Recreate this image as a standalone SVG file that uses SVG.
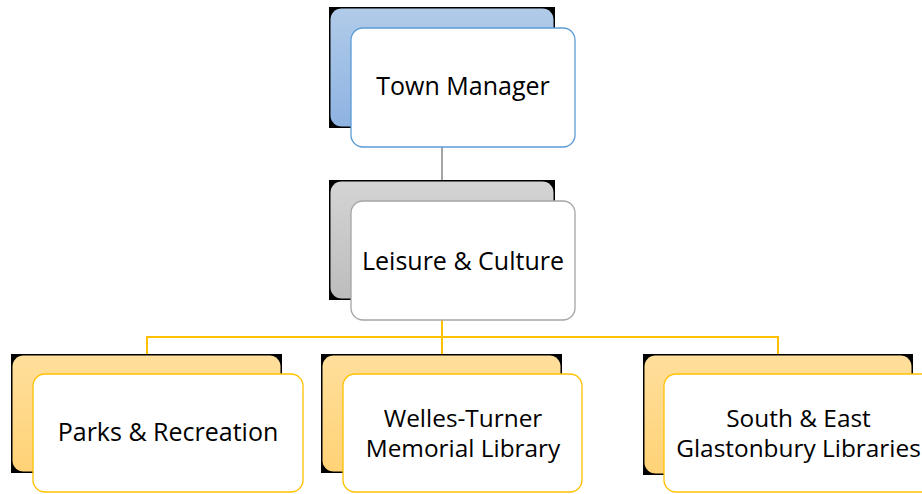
<svg xmlns="http://www.w3.org/2000/svg" width="922" height="494" viewBox="0 0 922 494">
  <style>
    .backing { fill: #000; }
    .card { fill: #fff; stroke-width: 1.3; }
    .blue .card { stroke: #5b9bd5; }
    .gray .card { stroke: #a5a5a5; }
    .gold .card { stroke: #ffc000; }
    .blue .plate { fill: url(#gBlue); }
    .gray .plate { fill: url(#gGray); }
    .gold .plate { fill: url(#gGold); }
    text { font-family: "Open Sans", Lato, "Liberation Sans", sans-serif; font-size: 25px; fill: #000; text-anchor: middle; }
    text.two { font-size: 24.4px; }
    .link-gray { stroke: #a5a5a5; stroke-width: 2; fill: none; }
    .link-gold { stroke: #ffc000; stroke-width: 2; fill: none; }
  </style>
  <defs>
    <linearGradient id="gBlue" x1="0" y1="0" x2="0" y2="1">
      <stop offset="0" stop-color="#b1cbe9"/>
      <stop offset="1" stop-color="#8eb3e2"/>
    </linearGradient>
    <linearGradient id="gGray" x1="0" y1="0" x2="0" y2="1">
      <stop offset="0" stop-color="#d4d4d4"/>
      <stop offset="1" stop-color="#bdbdbd"/>
    </linearGradient>
    <linearGradient id="gGold" x1="0" y1="0" x2="0" y2="1">
      <stop offset="0" stop-color="#ffdf9c"/>
      <stop offset="1" stop-color="#ffd276"/>
    </linearGradient>
  </defs>

  <!-- connectors -->
  <g id="connectors">
    <line class="link-gray" x1="442" y1="147" x2="442" y2="201"/>
    <path class="link-gold" d="M442 320 V337 M147 355 V337 H778 V355 M442 337 V355"/>
  </g>

  <!-- Town Manager -->
  <g id="town-manager" class="blue">
    <rect class="backing" x="329" y="7" width="226" height="121"/>
    <rect class="plate" x="330.5" y="8.5" width="223" height="118" rx="11"/>
    <rect class="card" x="351" y="28" width="224" height="119" rx="12"/>
    <text x="463" y="95">Town Manager</text>
  </g>

  <!-- Leisure & Culture -->
  <g id="leisure-culture" class="gray">
    <rect class="backing" x="329" y="180" width="226" height="120"/>
    <rect class="plate" x="330.5" y="181.5" width="223" height="117" rx="11"/>
    <rect class="card" x="351" y="201" width="224" height="119" rx="12"/>
    <text x="463" y="270">Leisure &amp; Culture</text>
  </g>

  <!-- Parks & Recreation -->
  <g id="parks-recreation" class="gold">
    <rect class="backing" x="11" y="354" width="271" height="119"/>
    <rect class="plate" x="12.5" y="355.5" width="268" height="116" rx="11"/>
    <rect class="card" x="33" y="374" width="270" height="118" rx="12"/>
    <text x="168" y="441">Parks &amp; Recreation</text>
  </g>

  <!-- Welles-Turner Memorial Library -->
  <g id="welles-turner" class="gold">
    <rect class="backing" x="321" y="354" width="241" height="119"/>
    <rect class="plate" x="322.5" y="355.5" width="238" height="116" rx="11"/>
    <rect class="card" x="343" y="374" width="239" height="118" rx="12"/>
    <text class="two" x="463" y="427">Welles-Turner</text>
    <text class="two" x="463" y="457">Memorial Library</text>
  </g>

  <!-- South & East Glastonbury Libraries -->
  <g id="south-east" class="gold">
    <rect class="backing" x="643" y="354" width="270" height="121"/>
    <rect class="plate" x="644.5" y="355.5" width="267" height="118" rx="11"/>
    <rect class="card" x="664" y="374" width="270" height="118" rx="12"/>
    <text class="two" x="798.5" y="427">South &amp; East</text>
    <text class="two" x="798.5" y="457">Glastonbury Libraries</text>
  </g>
</svg>
